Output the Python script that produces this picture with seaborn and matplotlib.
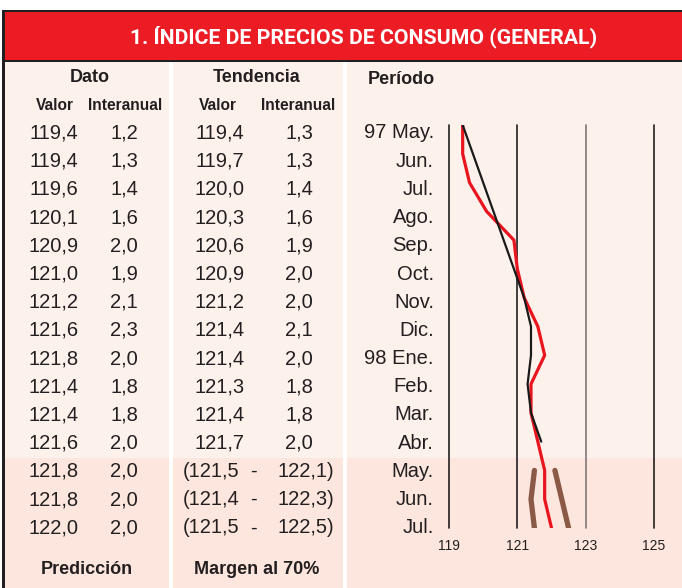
import matplotlib
matplotlib.use("Agg")
import numpy as np
import pandas as pd
import seaborn as sns
import matplotlib.pyplot as plt
from matplotlib.patches import Rectangle

# data
periods = ["97 May.", "Jun.", "Jul.", "Ago.", "Sep.", "Oct.", "Nov.", "Dic.",
           "98 Ene.", "Feb.", "Mar.", "Abr.", "May.", "Jun.", "Jul."]
dato_valor = [119.4, 119.4, 119.6, 120.1, 120.9, 121.0, 121.2, 121.6,
              121.8, 121.4, 121.4, 121.6, 121.8, 121.8, 122.0]
dato_interanual = [1.2, 1.3, 1.4, 1.6, 2.0, 1.9, 2.1, 2.3,
                   2.0, 1.8, 1.8, 2.0, 2.0, 2.0, 2.0]
tend_valor = [119.4, 119.7, 120.0, 120.3, 120.6, 120.9, 121.2, 121.4,
              121.4, 121.3, 121.4, 121.7]
tend_interanual = [1.3, 1.3, 1.4, 1.6, 1.9, 2.0, 2.0, 2.1,
                   2.0, 1.8, 1.8, 2.0]
margen_low = [121.5, 121.4, 121.5]
margen_high = [122.1, 122.3, 122.5]
x_ticks = [119, 121, 123, 125]

W, H = 682, 588
DARK = "#231f20"
RED = "#ec1c24"
CREAM = "#fdf1ec"
CREAM_DARK = "#fce6dd"
BROWN = "#8a5a47"


def fmt(v):
    return f"{v:.1f}".replace(".", ",")


sns.set_theme(style="white")
plt.rcParams["font.family"] = ["Liberation Sans", "DejaVu Sans"]

fig = plt.figure(figsize=(W / 100, H / 100), dpi=100)
bg = fig.add_axes([0, 0, 1, 1])
bg.set_xlim(0, W)
bg.set_ylim(H, 0)
bg.axis("off")

# frame, title bar and panels
bg.add_patch(Rectangle((2, 10), W, H, color=DARK, lw=0))
bg.add_patch(Rectangle((5, 12), W, 48, color=RED, lw=0))
bg.add_patch(Rectangle((5, 62), W, 396, color=CREAM, lw=0))
bg.add_patch(Rectangle((5, 458), W, 140, color=CREAM_DARK, lw=0))
for sep in (169, 343):
    bg.add_patch(Rectangle((sep, 62), 4, H, color="white", lw=0))

# title: no condensed face available, so shrink the size until it fits ~467px
title = bg.text(364, 37, "1. ÍNDICE DE PRECIOS DE CONSUMO (GENERAL)", color="white",
                fontsize=18, fontweight="bold", ha="center", va="center",
                family=["Roboto", "DejaVu Sans"])
renderer = fig.canvas.get_renderer()
tw = title.get_window_extent(renderer).width
title.set_fontsize(18 * 470 / tw)

# column headers
head = dict(color=DARK, fontweight="bold", va="center")
bg.text(90, 78, "Dato", fontsize=13, ha="center", **head)
bg.text(257, 78, "Tendencia", fontsize=13, ha="center", **head)
bg.text(368, 80, "Período", fontsize=13, ha="left", **head)
for xc, lab in [(55, "Valor"), (125, "Interanual"), (218, "Valor"), (298, "Interanual")]:
    bg.text(xc, 106, lab, fontsize=11.2, ha="center", **head)
bg.text(87, 570, "Predicción", fontsize=13, ha="center", **head)
bg.text(257, 570, "Margen al 70%", fontsize=13, ha="center", **head)

# table rows
body = dict(color=DARK, fontsize=14.5, va="center")
n_tend = len(tend_valor)
for i, per in enumerate(periods):
    y = 133 + i * 28.2
    bg.text(54, y, fmt(dato_valor[i]), ha="center", **body)
    bg.text(124, y, fmt(dato_interanual[i]), ha="center", **body)
    if i < n_tend:
        bg.text(220, y, fmt(tend_valor[i]), ha="center", **body)
        bg.text(299, y, fmt(tend_interanual[i]), ha="center", **body)
    else:
        k = i - n_tend
        bg.text(183, y, "(" + fmt(margen_low[k]), ha="left", **body)
        bg.text(253, y, "-", ha="center", **body)
        bg.text(334, y, fmt(margen_high[k]) + ")", ha="right", **body)
    bg.text(434, y, per, ha="right", **body)

# small line chart
top, bottom, left, right = 125, 528, 449, 654
ax = fig.add_axes([left / W, 1 - bottom / H, (right - left) / W, (bottom - top) / H])
ax.set_facecolor("none")
for xv, c in zip(x_ticks, [DARK, DARK, "#7d7777", DARK]):
    ax.axvline(xv, color=c, lw=1.2, clip_on=False, zorder=1)

rows = np.arange(len(periods))
dato_df = pd.DataFrame({"valor": dato_valor, "fila": rows})
tend_df = pd.DataFrame({"valor": tend_valor, "fila": rows[:n_tend]})
pred_rows = rows[n_tend:]

sns.lineplot(data=dato_df, x="valor", y="fila", orient="y", sort=False,
             estimator=None, color="#e8151f", lw=2.3, ax=ax, zorder=3)
sns.lineplot(data=tend_df, x="valor", y="fila", orient="y", sort=False,
             estimator=None, color="#1a1a1a", lw=1.6, ax=ax, zorder=4)
for band in (margen_low, margen_high):
    sns.lineplot(x=band, y=pred_rows, orient="y", sort=False, estimator=None,
                 color=BROWN, lw=3.8, ax=ax, zorder=2)

ax.set_xlim(x_ticks[0], x_ticks[-1])
ax.set_ylim(len(periods) - 1, 0)
ax.set_xticks(x_ticks)
ax.set_xticklabels([str(t) for t in x_ticks], fontsize=10, color=DARK)
ax.set_yticks([])
ax.tick_params(axis="x", length=0, pad=8)
ax.set_xlabel("")
ax.set_ylabel("")
for s in ax.spines.values():
    s.set_visible(False)

fig.savefig("out.png", dpi=100)
